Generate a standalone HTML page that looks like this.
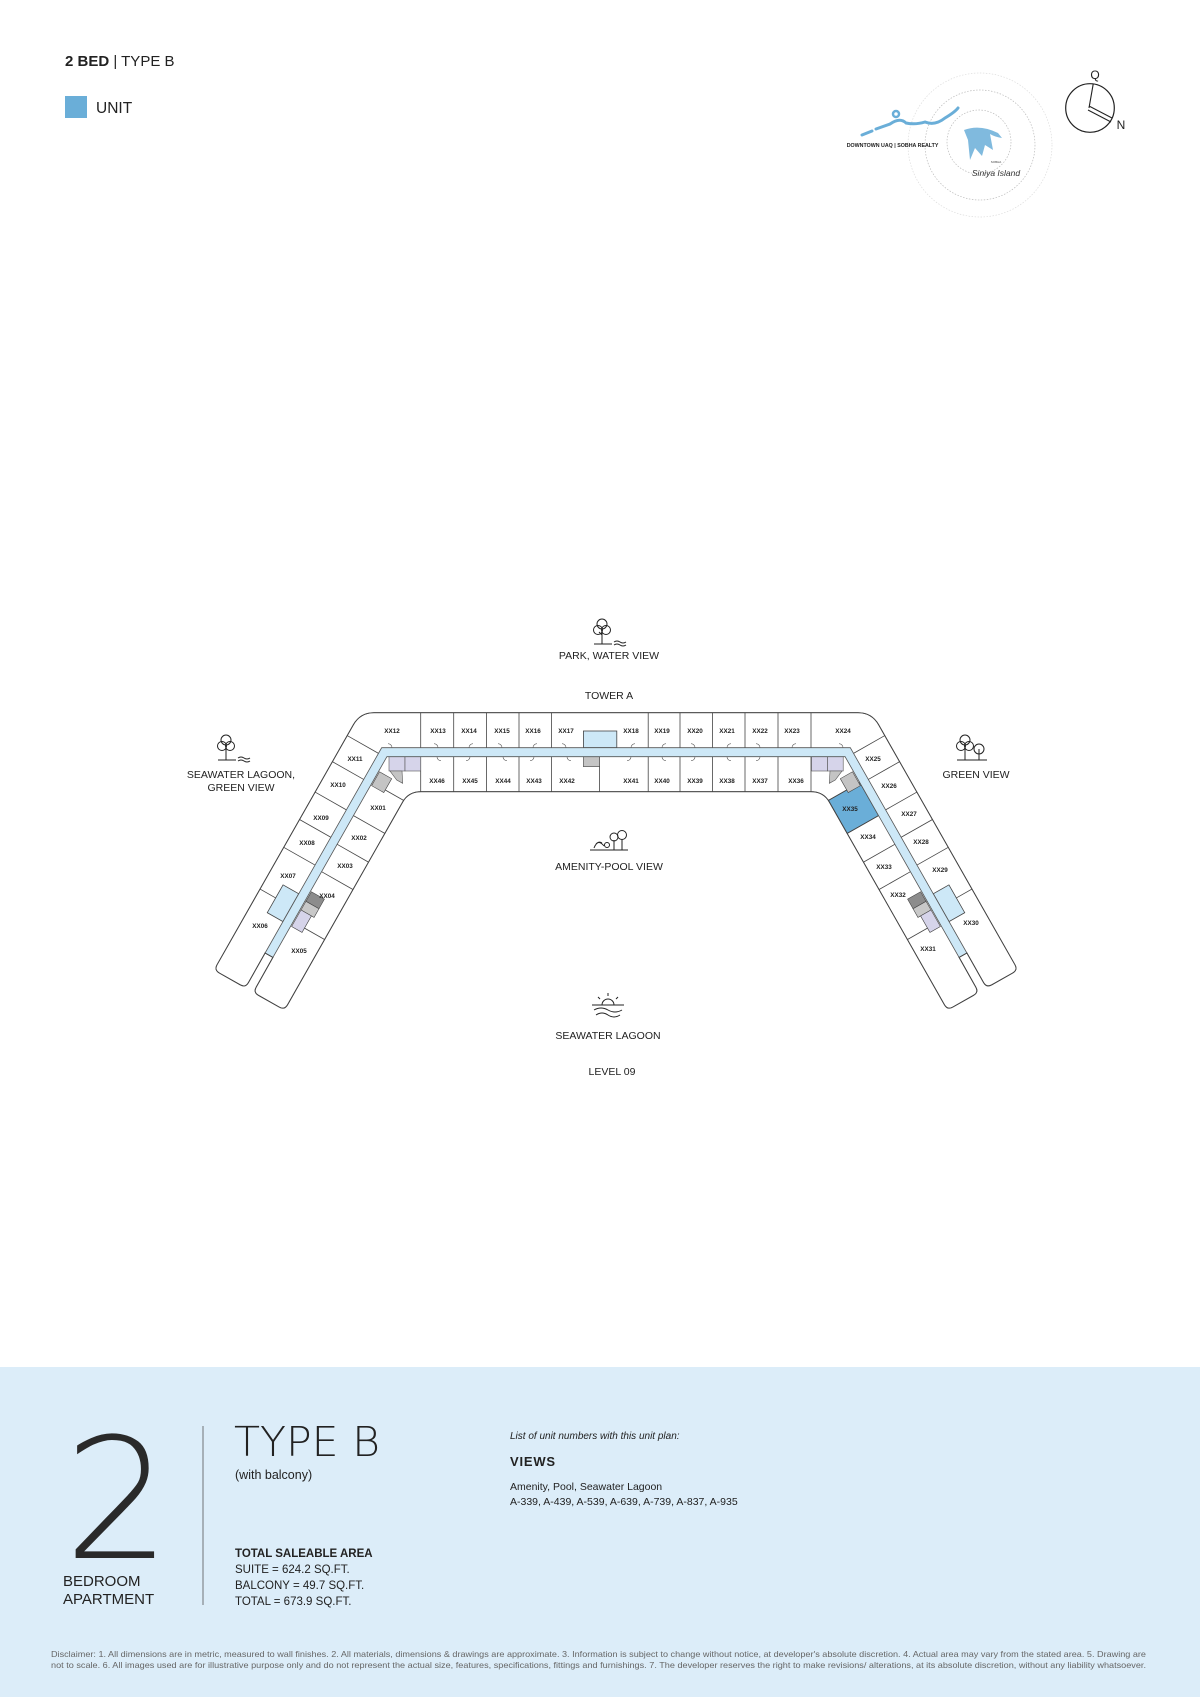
<!DOCTYPE html>
<html><head><meta charset="utf-8"><style>
html,body{margin:0;padding:0;background:#fff;}
svg{display:block;}
text{font-family:"Liberation Sans",Arial,sans-serif;}
.u{font-size:6.3px;fill:#222;text-anchor:middle;font-weight:bold;}
.lb{font-size:10.5px;fill:#222;text-anchor:middle;}
.thin{font-family:"DejaVu Sans ExtraLight","DejaVu Sans Light","Liberation Sans",sans-serif;font-weight:200;}
</style></head><body>
<svg width="1200" height="1697" viewBox="0 0 1200 1697" xmlns="http://www.w3.org/2000/svg">
<!-- header -->
<text x="65" y="66" font-size="15" fill="#222"><tspan font-weight="bold">2 BED</tspan> | TYPE B</text>
<rect x="65" y="96" width="22" height="22" fill="#6aaed8"/>
<text x="96" y="113" font-size="15.5" fill="#222">UNIT</text>

<!-- logo -->
<g fill="none" stroke="#bbb" stroke-width="0.7" stroke-dasharray="1.5 1.5">
<circle cx="980" cy="145" r="72" stroke="#ddd"/>
<circle cx="980" cy="145" r="55"/>
<circle cx="979" cy="142" r="32"/>
</g>
<path d="M862 135 L872 131 M876 129 L890 124 Q900 117 906 123 Q915 125 925 122 Q935 126 945 118 Q955 112 958 108" fill="none" stroke="#6aaed8" stroke-width="3" stroke-linecap="round"/>
<circle cx="896" cy="114" r="3" fill="none" stroke="#6aaed8" stroke-width="2.5"/>
<path d="M964 130 Q980 124 998 133 L1002 138 Q995 137 990 134 L993 150 L985 145 L982 156 L975 148 L970 160 L968 140 Z" fill="#6aaed8" opacity="0.85"/>
<text x="846.7" y="147" font-size="5.3" font-weight="bold" fill="#222">DOWNTOWN UAQ | SOBHA REALTY</text>
<text x="996" y="163" font-size="3" fill="#444" text-anchor="middle">SOBHA</text>
<text x="996" y="176" font-size="8.5" font-style="italic" fill="#333" text-anchor="middle" font-family="Liberation Serif">Siniya Island</text>
<!-- compass -->
<circle cx="1090" cy="108" r="24.3" fill="none" stroke="#222" stroke-width="1.2"/>
<line x1="1089" y1="108" x2="1093.3" y2="83.5" stroke="#222" stroke-width="1.1"/>
<path d="M1089 106 L1112 118 M1088 110 L1111 122" stroke="#222" stroke-width="1"/>
<text x="1095" y="79" font-size="12" fill="#222" text-anchor="middle" font-family="Liberation Serif">Q</text>
<text x="1121" y="129" font-size="12" fill="#222" text-anchor="middle" font-family="Liberation Serif">N</text>

<!-- building outline fill -->
<path d="M353.3,724.9 Q360.2,712.7 374,712.7 L858,712.7 Q871.8,712.7 878.7,724.9 L1015,964.8 Q1017.9,970 1012.7,973 L991.8,984.8 Q986.6,987.8 983.6,982.6 L966.9,953 L959.1,957.4 L975.8,987.1 Q978.8,992.3 973.6,995.3 L952.7,1007.1 Q947.5,1010.1 944.5,1004.9 L829.4,802.1 Q823.5,791.7 811,791.7 L421,791.7 Q408.5,791.7 402.6,802.1 L287.5,1004.9 Q284.5,1010.1 279.3,1007.1 L258.4,995.3 Q253.2,992.3 256.2,987.1 L272.9,957.4 L265.1,953 L248.4,982.6 Q245.4,987.8 240.2,984.8 L219.3,973 Q214.1,970 217,964.8 Z" fill="#fff" stroke="#444" stroke-width="0.9"/>

<!-- top bar dividers -->
<g stroke="#444" stroke-width="0.8">
<line x1="420.7" y1="712.7" x2="420.7" y2="747.7"/><line x1="453.7" y1="712.7" x2="453.7" y2="747.7"/>
<line x1="486.6" y1="712.7" x2="486.6" y2="747.7"/><line x1="519" y1="712.7" x2="519" y2="747.7"/>
<line x1="551.5" y1="712.7" x2="551.5" y2="747.7"/><line x1="648.2" y1="712.7" x2="648.2" y2="747.7"/>
<line x1="680" y1="712.7" x2="680" y2="747.7"/><line x1="712.6" y1="712.7" x2="712.6" y2="747.7"/>
<line x1="745" y1="712.7" x2="745" y2="747.7"/><line x1="778" y1="712.7" x2="778" y2="747.7"/>
<line x1="811" y1="712.7" x2="811" y2="747.7"/>
<line x1="420.7" y1="756.7" x2="420.7" y2="791.7"/><line x1="453.7" y1="756.7" x2="453.7" y2="791.7"/>
<line x1="486.6" y1="756.7" x2="486.6" y2="791.7"/><line x1="519" y1="756.7" x2="519" y2="791.7"/>
<line x1="551.5" y1="756.7" x2="551.5" y2="791.7"/><line x1="599.6" y1="756.7" x2="599.6" y2="791.7"/>
<line x1="648.2" y1="756.7" x2="648.2" y2="791.7"/><line x1="680" y1="756.7" x2="680" y2="791.7"/>
<line x1="712.6" y1="756.7" x2="712.6" y2="791.7"/><line x1="745" y1="756.7" x2="745" y2="791.7"/>
<line x1="778" y1="756.7" x2="778" y2="791.7"/><line x1="811" y1="756.7" x2="811" y2="791.7"/>
</g>
<rect x="583.4" y="731" width="33.4" height="16.7" fill="#cde8f7" stroke="#444" stroke-width="0.8"/>
<rect x="583.4" y="756.7" width="16.2" height="10" fill="#c4c4c4" stroke="#444" stroke-width="0.6"/>

<!-- corner boxes -->
<g stroke="#555" stroke-width="0.6">
<rect x="389" y="756.7" width="16" height="14.3" fill="#d6d4ea"/>
<rect x="405" y="756.7" width="15.7" height="14.3" fill="#d6d4ea"/>
<path d="M390,771 L402,771 L402.7,783.3 L396.7,780 Z" fill="#c4c4c4"/>
<rect x="811.5" y="756.7" width="16" height="14.3" fill="#d6d4ea"/>
<rect x="827.5" y="756.7" width="15.7" height="14.3" fill="#d6d4ea"/>
<path d="M842,771 L830,771 L829.3,783.3 L835.3,780 Z" fill="#c4c4c4"/>
</g>

<!-- left wing local -->
<g transform="translate(381.7,747.7) rotate(29.6)" stroke="#444" stroke-width="0.8">
<g fill="none">
<line x1="-36" y1="6.5" x2="0" y2="6.5"/><line x1="-36" y1="36.5" x2="0" y2="36.5"/>
<line x1="-36" y1="71.5" x2="0" y2="71.5"/><line x1="-36" y1="103" x2="0" y2="103"/>
<line x1="-36" y1="135" x2="0" y2="135"/><line x1="-36" y1="183" x2="-18" y2="183"/>
<line x1="24" y1="35" x2="45" y2="35"/><line x1="9" y1="73" x2="45" y2="73"/>
<line x1="9" y1="106" x2="45" y2="106"/><line x1="9" y1="137.5" x2="45" y2="137.5"/>
<line x1="22" y1="195" x2="45" y2="195"/>
</g>
<rect x="10" y="22" width="14" height="16" fill="#c4c4c4" stroke-width="0.6"/>
<rect x="-18" y="168" width="18" height="32" fill="#cde8f7"/>
<rect x="10" y="160" width="15" height="11" fill="#8c8c8c" stroke-width="0.6"/>
<rect x="10" y="171" width="15" height="10" fill="#c8c8c8" stroke-width="0.6"/>
<rect x="10" y="181" width="12" height="19" fill="#d6d4ea" stroke-width="0.6"/>
</g>
<!-- right wing mirrored -->
<g transform="translate(1232,0) scale(-1,1)">
<g transform="translate(381.7,747.7) rotate(29.6)" stroke="#444" stroke-width="0.8">
<rect x="9" y="35" width="36" height="38" fill="#6aaed8"/>
<g fill="none">
<line x1="-36" y1="6.5" x2="0" y2="6.5"/><line x1="-36" y1="36.5" x2="0" y2="36.5"/>
<line x1="-36" y1="71.5" x2="0" y2="71.5"/><line x1="-36" y1="103" x2="0" y2="103"/>
<line x1="-36" y1="135" x2="0" y2="135"/><line x1="-36" y1="183" x2="-18" y2="183"/>
<line x1="24" y1="35" x2="45" y2="35"/><line x1="9" y1="73" x2="45" y2="73"/>
<line x1="9" y1="106" x2="45" y2="106"/><line x1="9" y1="137.5" x2="45" y2="137.5"/>
<line x1="22" y1="195" x2="45" y2="195"/>
</g>
<rect x="10" y="22" width="14" height="16" fill="#c4c4c4" stroke-width="0.6"/>
<rect x="-18" y="168" width="18" height="32" fill="#cde8f7"/>
<rect x="10" y="160" width="15" height="11" fill="#8c8c8c" stroke-width="0.6"/>
<rect x="10" y="171" width="15" height="10" fill="#c8c8c8" stroke-width="0.6"/>
<rect x="10" y="181" width="12" height="19" fill="#d6d4ea" stroke-width="0.6"/>
</g>
</g>

<!-- corridor -->
<path d="M381.7,747.7 L850.3,747.7 L966.9,953 L959.1,957.4 L845.1,756.7 L386.9,756.7 L272.9,957.4 L265.1,953 Z" fill="#cde8f7" stroke="#555" stroke-width="0.8"/>

<!-- door swings -->
<g fill="none" stroke="#555" stroke-width="0.6">
<path d="M392 747.7 a4 4 0 0 0 -4 -4 M438 747.7 a4 4 0 0 0 -4 -4 M469 747.7 a4 4 0 0 1 4 -4 M502 747.7 a4 4 0 0 0 -4 -4 M533 747.7 a4 4 0 0 1 4 -4 M566 747.7 a4 4 0 0 0 -4 -4 M631 747.7 a4 4 0 0 1 4 -4 M662 747.7 a4 4 0 0 1 4 -4 M695 747.7 a4 4 0 0 0 -4 -4 M727 747.7 a4 4 0 0 1 4 -4 M760 747.7 a4 4 0 0 0 -4 -4 M792 747.7 a4 4 0 0 1 4 -4 M843 747.7 a4 4 0 0 0 -4 -4"/>
<path d="M437 756.7 a4 4 0 0 0 4 4 M470 756.7 a4 4 0 0 1 -4 4 M503 756.7 a4 4 0 0 0 4 4 M534 756.7 a4 4 0 0 1 -4 4 M567 756.7 a4 4 0 0 0 4 4 M631 756.7 a4 4 0 0 1 -4 4 M662 756.7 a4 4 0 0 0 4 4 M695 756.7 a4 4 0 0 1 -4 4 M727 756.7 a4 4 0 0 0 4 4 M760 756.7 a4 4 0 0 1 -4 4"/>
</g>

<!-- outline stroke on top -->
<path d="M353.3,724.9 Q360.2,712.7 374,712.7 L858,712.7 Q871.8,712.7 878.7,724.9 L1015,964.8 Q1017.9,970 1012.7,973 L991.8,984.8 Q986.6,987.8 983.6,982.6 L966.9,953 L959.1,957.4 L975.8,987.1 Q978.8,992.3 973.6,995.3 L952.7,1007.1 Q947.5,1010.1 944.5,1004.9 L829.4,802.1 Q823.5,791.7 811,791.7 L421,791.7 Q408.5,791.7 402.6,802.1 L287.5,1004.9 Q284.5,1010.1 279.3,1007.1 L258.4,995.3 Q253.2,992.3 256.2,987.1 L272.9,957.4 L265.1,953 L248.4,982.6 Q245.4,987.8 240.2,984.8 L219.3,973 Q214.1,970 217,964.8 Z" fill="none" stroke="#444" stroke-width="0.9"/>

<!-- unit labels -->
<g>
<text x="392" y="733" class="u">XX12</text><text x="438" y="733" class="u">XX13</text><text x="469" y="733" class="u">XX14</text>
<text x="502" y="733" class="u">XX15</text><text x="533" y="733" class="u">XX16</text><text x="566" y="733" class="u">XX17</text>
<text x="631" y="733" class="u">XX18</text><text x="662" y="733" class="u">XX19</text><text x="695" y="733" class="u">XX20</text>
<text x="727" y="733" class="u">XX21</text><text x="760" y="733" class="u">XX22</text><text x="792" y="733" class="u">XX23</text>
<text x="843" y="733" class="u">XX24</text>
<text x="437" y="783" class="u">XX46</text><text x="470" y="783" class="u">XX45</text><text x="503" y="783" class="u">XX44</text>
<text x="534" y="783" class="u">XX43</text><text x="567" y="783" class="u">XX42</text><text x="631" y="783" class="u">XX41</text>
<text x="662" y="783" class="u">XX40</text><text x="695" y="783" class="u">XX39</text><text x="727" y="783" class="u">XX38</text>
<text x="760" y="783" class="u">XX37</text><text x="796" y="783" class="u">XX36</text>
<text x="355" y="761" class="u">XX11</text><text x="338" y="787" class="u">XX10</text><text x="321" y="820" class="u">XX09</text>
<text x="307" y="845" class="u">XX08</text><text x="288" y="878" class="u">XX07</text><text x="260" y="928" class="u">XX06</text>
<text x="378" y="810" class="u">XX01</text><text x="359" y="840" class="u">XX02</text><text x="345" y="868" class="u">XX03</text>
<text x="327" y="898" class="u">XX04</text><text x="299" y="953" class="u">XX05</text>
<text x="873" y="761" class="u">XX25</text><text x="889" y="788" class="u">XX26</text><text x="909" y="816" class="u">XX27</text>
<text x="921" y="844" class="u">XX28</text><text x="940" y="872" class="u">XX29</text><text x="971" y="925" class="u">XX30</text>
<text x="850" y="811" class="u">XX35</text><text x="868" y="839" class="u">XX34</text><text x="884" y="869" class="u">XX33</text>
<text x="898" y="897" class="u">XX32</text><text x="928" y="951" class="u">XX31</text>
</g>

<!-- view icons -->
<g fill="none" stroke="#222" stroke-width="1">
<g transform="translate(602,630)"><circle cx="0" cy="-6" r="5"/><circle cx="-4" cy="0" r="4.5"/><circle cx="4" cy="0" r="4.5"/><line x1="0" y1="-3" x2="0" y2="14"/><line x1="-3" y1="2" x2="0" y2="5"/><line x1="-8" y1="14" x2="10" y2="14"/><path d="M12 12 q3 -2 6 0 t6 0 M12 15 q3 -2 6 0 t6 0"/></g>
<g transform="translate(226,746)"><circle cx="0" cy="-6" r="5"/><circle cx="-4" cy="0" r="4.5"/><circle cx="4" cy="0" r="4.5"/><line x1="0" y1="-3" x2="0" y2="14"/><line x1="-8" y1="14" x2="10" y2="14"/><path d="M12 12 q3 -2 6 0 t6 0 M12 15 q3 -2 6 0 t6 0"/></g>
<g transform="translate(965,746)"><circle cx="0" cy="-6" r="5"/><circle cx="-4" cy="0" r="4.5"/><circle cx="4" cy="0" r="4.5"/><line x1="0" y1="-3" x2="0" y2="14"/><circle cx="14" cy="3" r="5"/><line x1="14" y1="3" x2="14" y2="14"/><line x1="-8" y1="14" x2="22" y2="14"/></g>
<g transform="translate(608,840)"><path d="M-18 10 L4 10 M-14 8 q4 -10 10 -2 M-12 4 q3 -3 6 -1"/><circle cx="-1" cy="5" r="2.5"/><circle cx="6" cy="-3" r="4"/><circle cx="14" cy="-5" r="4.5"/><line x1="6" y1="0" x2="6" y2="10"/><line x1="14" y1="-1" x2="14" y2="10"/><line x1="0" y1="10" x2="20" y2="10"/></g>
<g transform="translate(608,1005)"><path d="M-6 0 a6 6 0 0 1 12 0"/><path d="M-16 0 L16 0 M0 -9 v-3 M-8 -6 l-2 -2 M8 -6 l2 -2"/><path d="M-14 5 q7 -4 14 0 t14 0 M-12 10 q6 -4 12 0 t12 0"/></g>
</g>
<text x="609" y="659" class="lb">PARK, WATER VIEW</text>
<text x="609" y="699" class="lb">TOWER A</text>
<text x="241" y="778" class="lb">SEAWATER LAGOON,</text>
<text x="241" y="791" class="lb">GREEN VIEW</text>
<text x="976" y="778" class="lb">GREEN VIEW</text>
<text x="609" y="870" class="lb">AMENITY-POOL VIEW</text>
<text x="608" y="1039" class="lb">SEAWATER LAGOON</text>
<text x="612" y="1075" class="lb">LEVEL 09</text>

<!-- bottom panel -->
<rect x="0" y="1367" width="1200" height="330" fill="#dcedf9"/>
<text x="64" y="1558" font-size="168" fill="#2a2a2a" class="thin">2</text>
<text x="63" y="1586" font-size="15" fill="#222">BEDROOM</text>
<text x="63" y="1604" font-size="15" fill="#222">APARTMENT</text>
<line x1="203" y1="1426" x2="203" y2="1605" stroke="#555" stroke-width="0.8"/>
<text x="234" y="1456" font-size="41" fill="#222" class="thin" textLength="146" lengthAdjust="spacingAndGlyphs">TYPE B</text>
<text x="235" y="1479" font-size="12.5" fill="#222">(with balcony)</text>
<text x="235" y="1557" font-size="11.5" font-weight="bold" fill="#222">TOTAL SALEABLE AREA</text>
<text x="235" y="1573" font-size="11.5" fill="#222">SUITE = 624.2 SQ.FT.</text>
<text x="235" y="1589" font-size="11.5" fill="#222">BALCONY = 49.7 SQ.FT.</text>
<text x="235" y="1605" font-size="11.5" fill="#222">TOTAL = 673.9 SQ.FT.</text>
<text x="510" y="1439" font-size="10" font-style="italic" fill="#222">List of unit numbers with this unit plan:</text>
<text x="510" y="1466" font-size="13" font-weight="bold" fill="#222" letter-spacing="0.8">VIEWS</text>
<text x="510" y="1490" font-size="10.5" fill="#222">Amenity, Pool, Seawater Lagoon</text>
<text x="510" y="1505" font-size="10.5" fill="#222">A-339, A-439, A-539, A-639, A-739, A-837, A-935</text>
<text x="51" y="1657" font-size="8.3" fill="#666" textLength="1095" lengthAdjust="spacingAndGlyphs">Disclaimer: 1. All dimensions are in metric, measured to wall finishes. 2. All materials, dimensions &amp; drawings are approximate. 3. Information is subject to change without notice, at developer's absolute discretion. 4. Actual area may vary from the stated area. 5. Drawing are</text>
<text x="51" y="1668" font-size="8.3" fill="#666" textLength="1095" lengthAdjust="spacingAndGlyphs">not to scale. 6. All images used are for illustrative purpose only and do not represent the actual size, features, specifications, fittings and furnishings. 7. The developer reserves the right to make revisions/ alterations, at its absolute discretion, without any liability whatsoever.</text>
</svg>
</body></html>
